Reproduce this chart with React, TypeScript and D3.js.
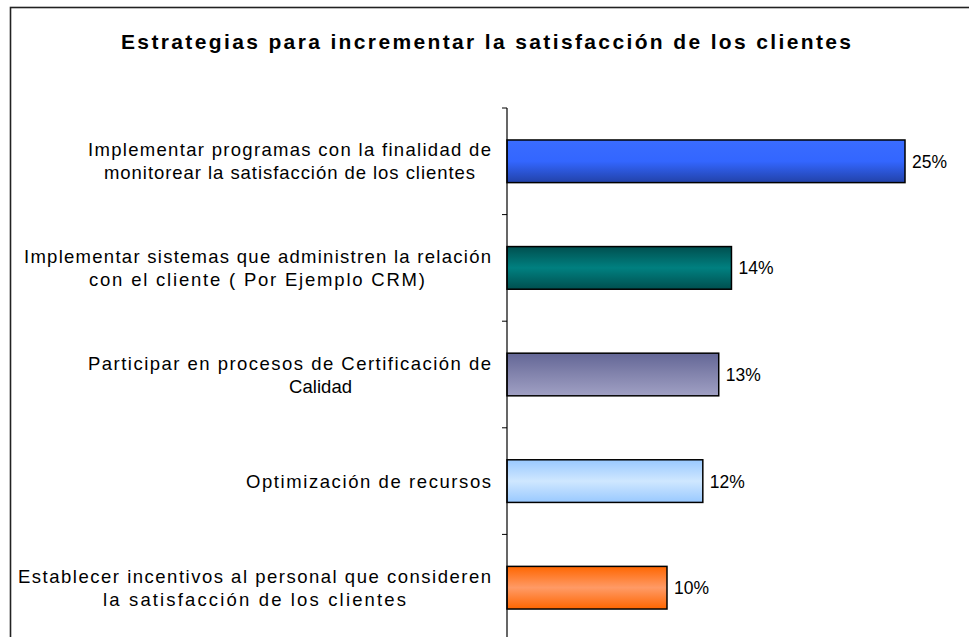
import React from "react";
import * as d3 from "d3";

const title = "Estrategias para incrementar la satisfacción de los clientes";
const categories: string[][] = [
  ["Implementar programas con la finalidad de", "monitorear la satisfacción de los clientes"],
  ["Implementar sistemas que administren la relación", "con el cliente ( Por Ejemplo CRM)"],
  ["Participar en procesos de Certificación de", "Calidad"],
  ["Optimización de recursos"],
  ["Establecer incentivos al personal que consideren", "la satisfacción de los clientes"],
];
const values = [25.0, 14.1, 13.3, 12.3, 10.05];
const valueLabels = ["25%", "14%", "13%", "12%", "10%"];
const gradients = [
  ["#3a6cff", "#3366ff", "#2242a8"],
  ["#004f4f", "#008080", "#004f4f"],
  ["#636696", "#8384ad", "#a0a0c4"],
  ["#99c9ff", "#cfe7ff", "#99c9ff"],
  ["#ff6600", "#ff9a66", "#ff6600"],
];

// layout: rendered [left, right] extents of each label line
const labelExtents: number[][][] = [
  [[88, 491], [104, 475]],
  [[24, 491], [89, 425]],
  [[88, 491], [289, 352]],
  [[246, 491]],
  [[18, 491], [103, 406]],
];

const W = 969;
const H = 637;
const axisX = 507;

export default function App() {
  const y = d3
    .scaleBand<number>()
    .domain(d3.range(values.length))
    .range([108, 641])
    .paddingInner(0.6)
    .paddingOuter(0.3);
  const x = d3.scaleLinear().domain([0, 25]).range([axisX, 905]);
  const step = y.step();
  const font = "'Liberation Sans', Arial, sans-serif";
  const tickYs = d3.range(values.length + 1).map((i) => 108 + i * step);

  return (
    <svg
      width={W}
      height={H}
      style={{ position: "absolute", left: 0, top: 0, background: "#fff" }}
      fontFamily={font}
    >
      <defs>
        {gradients.map((g, i) => (
          <linearGradient key={i} id={`g${i}`} x1="0" y1="0" x2="0" y2="1">
            <stop offset="0%" stopColor={g[0]} />
            <stop offset="50%" stopColor={g[1]} />
            <stop offset="100%" stopColor={g[2]} />
          </linearGradient>
        ))}
      </defs>
      <rect x={10.5} y={7.5} width={1200} height={900} fill="#fff" stroke="#222" strokeWidth={1.6} />
      <text
        x={121}
        y={49}
        fontSize={21}
        fontWeight="bold"
        fill="#000"
        textLength={730}
        lengthAdjust="spacing"
      >
        {title}
      </text>
      {values.map((v, i) => {
        const by = y(i)!;
        const bh = y.bandwidth();
        return (
          <g key={i}>
            <rect
              x={axisX}
              y={by}
              width={x(v) - axisX}
              height={bh}
              fill={`url(#g${i})`}
              stroke="#000"
              strokeWidth={1.5}
            />
            <text
              x={x(v) + 7}
              y={by + bh / 2 + 6.5}
              fontSize={18}
              fill="#000"
              textLength={35}
              lengthAdjust="spacingAndGlyphs"
            >
              {valueLabels[i]}
            </text>
          </g>
        );
      })}
      <line x1={axisX} x2={axisX} y1={108} y2={641} stroke="#000" strokeWidth={1.2} />
      {tickYs.map((t, i) => (
        <line key={i} x1={axisX - 5} x2={axisX} y1={t} y2={t} stroke="#000" strokeWidth={1} />
      ))}
      {categories.map((lines, i) => {
        const cy = y(i)! + y.bandwidth() / 2;
        const lh = 23;
        const n = lines.length;
        return (
          <g key={i}>
            {lines.map((ln, j) => {
              const [l, r] = labelExtents[i][j];
              return (
                <text
                  key={j}
                  x={l}
                  y={cy + (j - (n - 1) / 2) * lh + 6.5}
                  fontSize={18.5}
                  fill="#000"
                  textLength={r - l}
                  lengthAdjust="spacing"
                >
                  {ln}
                </text>
              );
            })}
          </g>
        );
      })}
    </svg>
  );
}
